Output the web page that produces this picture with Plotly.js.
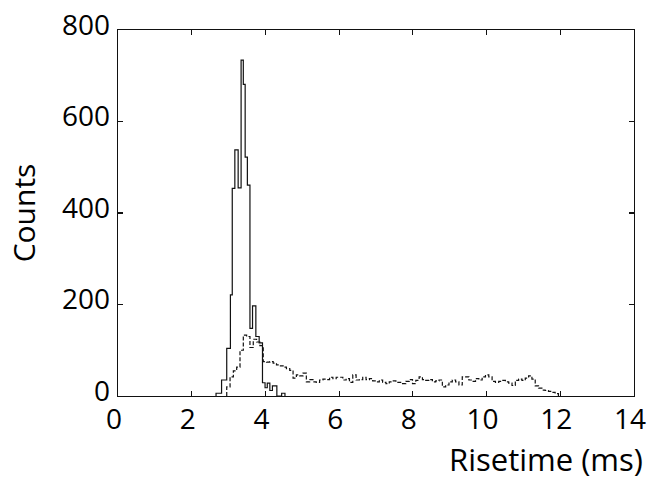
<!DOCTYPE html>
<html><head><meta charset="utf-8">
<script src="https://cdn.plot.ly/plotly-3.0.1.min.js"></script>
<style>html,body{margin:0;padding:0;background:#fff;}</style>
</head><body>
<div id="chart" style="width:652px;height:479px;"></div>
<script>
// Solid histogram: bin edges (ms) and counts
const solidEdges  = [2.66, 2.81, 2.95, 3.05, 3.10, 3.17, 3.26, 3.34, 3.40, 3.45, 3.51, 3.58, 3.65, 3.74, 3.83, 3.92, 3.99, 4.05, 4.12, 4.19, 4.31, 4.44, 4.53];
const solidCounts = [6, 35, 104, 221, 454, 538, 455, 734, 681, 522, 461, 148, 197, 130, 116, 29, 18, 28, 12, 22, 0, 6];

// Dashed histogram: first bin edge, bin width (ms), counts
const dashedStart = 2.95;
const dashedWidth = 0.09;
const dashedCounts = [
  20, 42, 55, 63, 100, 133, 130, 106, 124, 118,
  110, 75, 74, 75, 72, 68, 66, 63, 60, 56,
  39, 46, 44, 50, 31, 36, 31, 30, 35, 37,
  36, 41, 38, 41, 41, 35, 38, 30, 46, 35,
  36, 41, 36, 38, 33, 31, 35, 30, 27, 31,
  33, 30, 30, 27, 32, 36, 27, 34, 42, 36,
  34, 36, 31, 33, 35, 20, 24, 31, 35, 31,
  24, 42, 42, 35, 32, 38, 35, 42, 46, 42,
  32, 30, 32, 34, 31, 28, 23, 34, 37, 34,
  39, 44, 37, 22, 17, 13, 12, 10, 8, 5
];

const xTicks = [0, 2, 4, 6, 8, 10, 12, 14];
const yTicks = [0, 200, 400, 600, 800];
const xTitle = 'Risetime (ms)';
const yTitle = 'Counts';

function stepPoints(edges, counts) {
  const x = [edges[0]], y = [0];
  for (let i = 0; i < counts.length; i++) { x.push(edges[i]); y.push(counts[i]); }
  x.push(edges[counts.length]); y.push(0);
  return {x, y};
}

const dashedEdges = [];
for (let i = 0; i <= dashedCounts.length; i++) dashedEdges.push(+(dashedStart + i * dashedWidth).toFixed(4));

const s = stepPoints(solidEdges, solidCounts);
const d = stepPoints(dashedEdges, dashedCounts);

const FONT = 'Open Sans, Noto Sans, sans-serif';
const axisCommon = {
  showline: true, linecolor: '#111', linewidth: 1.3, mirror: 'allticks',
  ticks: 'inside', ticklen: 5, tickwidth: 1.2, tickcolor: '#111',
  showgrid: false, zeroline: false,
  tickfont: {family: FONT, size: 28, color: '#000'}
};

const traces = [
  {type: 'scatter', mode: 'lines', x: d.x, y: d.y, line: {shape: 'hv', color: '#111', width: 1.2, dash: '4px,2px'}, hoverinfo: 'skip', showlegend: false},
  {type: 'scatter', mode: 'lines', x: s.x, y: s.y, line: {shape: 'hv', color: '#111', width: 1.2}, hoverinfo: 'skip', showlegend: false}
];

const layout = {
  width: 652, height: 479, autosize: false,
  margin: {l: 118, r: 18, t: 30, b: 83},
  paper_bgcolor: '#fff', plot_bgcolor: '#fff',
  showlegend: false,
  xaxis: Object.assign({}, axisCommon, {range: [0, 14], tickvals: xTicks, ticktext: xTicks.map(String), ticklabelstandoff: -2, ticklabelshift: -4}),
  yaxis: Object.assign({}, axisCommon, {range: [0, 800], tickvals: yTicks, ticktext: yTicks.map(String), ticklabelstandoff: 1, ticklabelshift: -5,
    title: {text: yTitle, font: {family: FONT, size: 30, color: '#000'}, standoff: 17}}),
  annotations: [
    {text: xTitle, xref: 'paper', yref: 'paper', x: 1.021, y: -0.172, xanchor: 'right', yanchor: 'middle', showarrow: false,
     font: {family: FONT, size: 31, color: '#000'}}
  ]
};

Plotly.newPlot('chart', traces, layout, {staticPlot: true, displayModeBar: false});
</script>
</body></html>
